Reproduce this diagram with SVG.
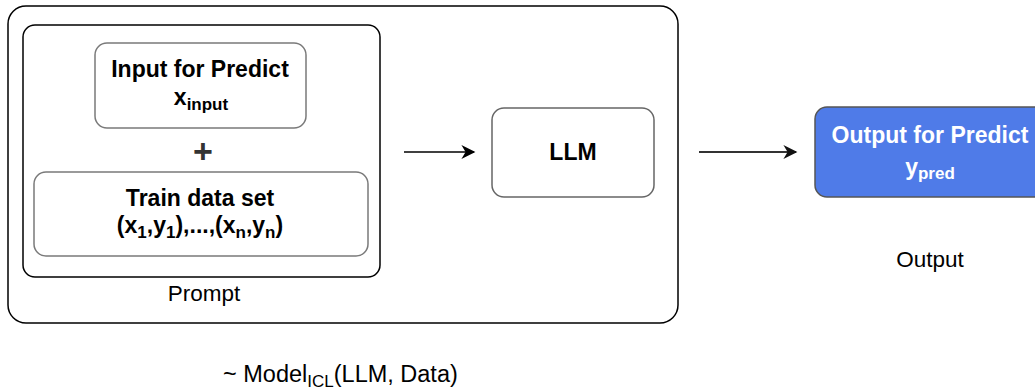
<svg xmlns="http://www.w3.org/2000/svg" width="1035" height="391" viewBox="0 0 1035 391">
<style>
text{font-family:"Liberation Sans",Arial,sans-serif;fill:#000;}
.b{font-weight:bold;font-size:23px;}
.r{font-size:22.5px;}
.box{fill:#fff;stroke:#000;stroke-width:1.5;}
.inner{fill:#fff;stroke:#7a7a7a;stroke-width:1.5;}
.conn{stroke:#000;stroke-width:1.5;fill:none;}
</style>
<defs>
<marker id="arr" viewBox="0 0 10 10" refX="9" refY="5" markerWidth="15" markerHeight="14" markerUnits="userSpaceOnUse" orient="auto">
<path d="M0,0 L10,5 L0,10 L3,5 z" fill="#000"/>
</marker>
<marker id="arr2" viewBox="0 0 10 10" refX="9" refY="5" markerWidth="15" markerHeight="14" markerUnits="userSpaceOnUse" orient="auto">
<path d="M0,0 L10,5 L0,10 L3,5 z" fill="#111"/>
</marker>
</defs>
<rect width="1035" height="391" fill="#fff"/>
<g id="outer">
<rect class="box" x="8" y="6" width="670" height="317" rx="18"/>
</g>
<g id="prompt">
<rect class="box" x="23" y="25" width="357" height="252" rx="12"/>
<text class="r" x="204" y="301" text-anchor="middle">Prompt</text>
</g>
<g id="input">
<rect class="inner" x="95" y="43" width="211" height="85" rx="12"/>
<text class="b" x="200" y="77" text-anchor="middle">Input for Predict</text>
<text class="b" x="201" y="105" text-anchor="middle">x<tspan font-size="17" dy="5">input</tspan></text>
</g>
<g id="plus">
<text x="203" y="163" text-anchor="middle" style="font-weight:bold;font-size:34px;fill:#333">+</text>
</g>
<g id="train">
<rect class="inner" x="34" y="172" width="334" height="84" rx="12"/>
<text class="b" x="200" y="206" text-anchor="middle">Train data set</text>
<text class="b" x="200" y="233" text-anchor="middle">(x<tspan font-size="17" dy="5">1</tspan><tspan dy="-5">,y</tspan><tspan font-size="17" dy="5">1</tspan><tspan dy="-5">),...,(x</tspan><tspan font-size="17" dy="5">n</tspan><tspan dy="-5">,y</tspan><tspan font-size="17" dy="5">n</tspan><tspan dy="-5">)</tspan></text>
</g>
<g id="llm">
<rect class="inner" x="492" y="108" width="162" height="89" rx="12" style="stroke:#666"/>
<text class="b" x="573" y="160" text-anchor="middle">LLM</text>
</g>
<g id="output">
<rect x="815" y="107" width="232" height="90" rx="12" fill="#4f7be8" stroke="#555" stroke-width="1.5"/>
<text class="b" x="930" y="143" text-anchor="middle" style="fill:#fff">Output for Predict</text>
<text class="b" x="930" y="175" text-anchor="middle" style="fill:#fff">y<tspan font-size="17" dy="4">pred</tspan></text>
<text class="r" x="930" y="267" text-anchor="middle">Output</text>
</g>
<g id="formula">
<text class="r" x="223" y="382" style="font-size:23.5px">~ Model<tspan font-size="17" dy="5">ICL</tspan><tspan dy="-5">(LLM, Data)</tspan></text>
</g>
<g id="connectors">
<line class="conn" x1="404" y1="152" x2="474" y2="152" marker-end="url(#arr)"/>
<line class="conn" x1="699" y1="152" x2="796" y2="152" style="stroke:#333;stroke-width:2" marker-end="url(#arr2)"/>
</g>
</svg>
